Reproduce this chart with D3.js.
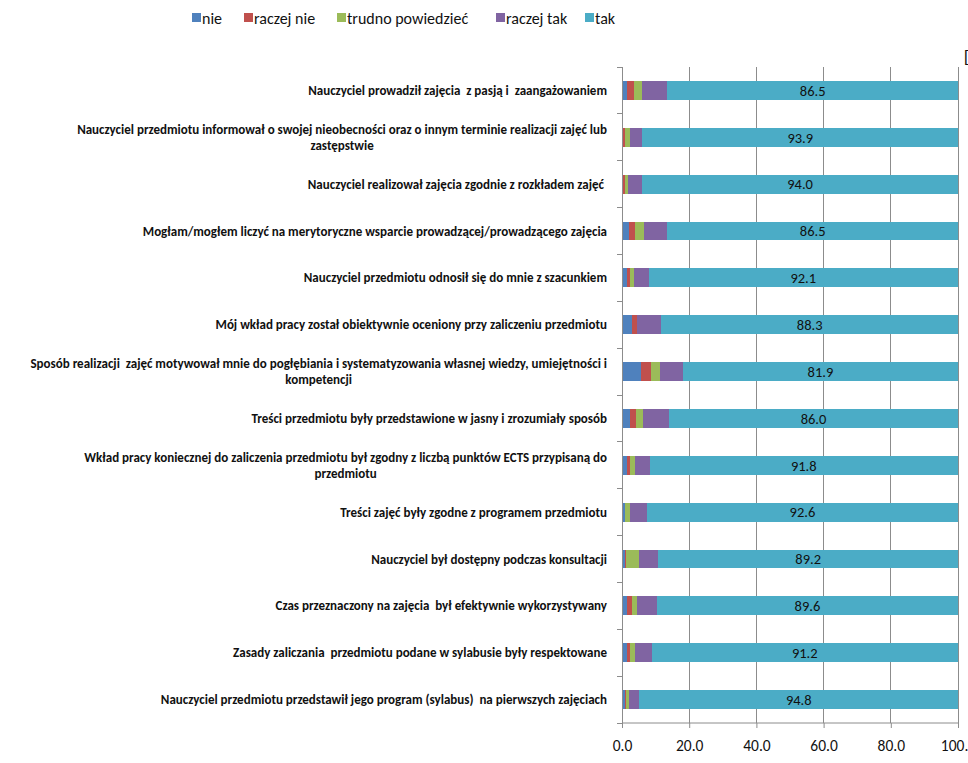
<!DOCTYPE html>
<html>
<head>
<meta charset="utf-8">
<script src="https://cdn.jsdelivr.net/npm/d3@7"></script>
<style>
html,body{margin:0;padding:0;background:#fff;}
svg{display:block;}
</style>
</head>
<body>
<svg id="chart" width="968" height="763"></svg>
<script>
const categories = [
  ["Nauczyciel prowadził zajęcia  z pasją i  zaangażowaniem"],
  ["Nauczyciel przedmiotu informował o swojej nieobecności oraz o innym terminie realizacji zajęć lub", "zastępstwie"],
  ["Nauczyciel realizował zajęcia zgodnie z rozkładem zajęć "],
  ["Mogłam/mogłem liczyć na merytoryczne wsparcie prowadzącej/prowadzącego zajęcia"],
  ["Nauczyciel przedmiotu odnosił się do mnie z szacunkiem"],
  ["Mój wkład pracy został obiektywnie oceniony przy zaliczeniu przedmiotu"],
  ["Sposób realizacji  zajęć motywował mnie do pogłębiania i systematyzowania własnej wiedzy, umiejętności i", "kompetencji"],
  ["Treści przedmiotu były przedstawione w jasny i zrozumiały sposób"],
  ["Wkład pracy koniecznej do zaliczenia przedmiotu był zgodny z liczbą punktów ECTS przypisaną do", "przedmiotu"],
  ["Treści zajęć były zgodne z programem przedmiotu"],
  ["Nauczyciel był dostępny podczas konsultacji"],
  ["Czas przeznaczony na zajęcia  był efektywnie wykorzystywany"],
  ["Zasady zaliczania  przedmiotu podane w sylabusie były respektowane"],
  ["Nauczyciel przedmiotu przedstawił jego program (sylabus)  na pierwszych zajęciach"]
];
const seriesNames = ["nie", "raczej nie", "trudno powiedzieć", "raczej tak", "tak"];
const seriesColors = ["#4F81BD", "#C0504D", "#9BBB59", "#8064A2", "#4BACC6"];
const nie       = [1.6, 0.3, 0.4, 2.0, 1.5, 2.9, 5.7, 2.3, 1.6, 0.8, 0.8, 1.5, 1.6, 1.0];
const raczejNie = [1.9, 0.6, 0.4, 1.8, 0.8, 1.5, 2.9, 1.8, 0.7, 0.0, 0.5, 1.4, 0.7, 0.2];
const trudno    = [2.4, 1.5, 1.0, 2.7, 1.2, 0.2, 2.7, 2.2, 1.5, 1.5, 3.8, 1.5, 1.5, 1.0];
const raczejTak = [7.6, 3.7, 4.2, 7.0, 4.4, 7.1, 6.8, 7.7, 4.4, 5.1, 5.7, 6.0, 5.0, 3.0];
const tak       = [86.5, 93.9, 94.0, 86.5, 92.1, 88.3, 81.9, 86.0, 91.8, 92.6, 89.2, 89.6, 91.2, 94.8];
const xTicks = [0, 20, 40, 60, 80, 100];
const xTickLabels = ["0.0", "20.0", "40.0", "60.0", "80.0", "100.0"];

const seriesValues = [nie, raczejNie, trudno, raczejTak, tak];
const rows = categories.map((c, i) => {
  const r = {idx: i};
  seriesNames.forEach((s, k) => r[s] = seriesValues[k][i]);
  return r;
});

const FONT = "Carlito, Calibri, 'Liberation Sans', Arial, sans-serif";
const svg = d3.select("#chart");
const plotTop = 67, plotBottom = 723;

const x = d3.scaleLinear().domain([0, 100]).range([622, 958]);
const y = d3.scaleBand().domain(d3.range(categories.length)).range([plotTop, plotBottom]).paddingInner(0.6).paddingOuter(0.3);
const yb = d3.scaleBand().domain(d3.range(categories.length)).range([plotTop, plotBottom]);

// gridlines
svg.append("g").selectAll("line").data(xTicks.slice(1)).join("line")
  .attr("x1", d => x(d)).attr("x2", d => x(d))
  .attr("y1", plotTop).attr("y2", plotBottom)
  .attr("stroke", "#8c8c8c").attr("stroke-width", 1).attr("shape-rendering", "crispEdges");

// stacked bars
const stack = d3.stack().keys(seriesNames)(rows);
svg.append("g").selectAll("g").data(stack).join("g")
  .attr("fill", (d, i) => seriesColors[i])
  .selectAll("rect").data(d => d).join("rect")
  .attr("x", d => x(d[0]))
  .attr("width", d => Math.max(0, x(d[1]) - x(d[0])))
  .attr("y", d => y(d.data.idx))
  .attr("height", y.bandwidth())
  .attr("shape-rendering", "crispEdges");

// value labels
svg.append("g").selectAll("text").data(rows).join("text")
  .attr("x", d => x((100 - d["tak"]) + d["tak"] / 2))
  .attr("y", d => y(d.idx) + y.bandwidth() / 2)
  .attr("dy", "0.36em")
  .attr("text-anchor", "middle")
  .attr("font-family", FONT)
  .attr("font-size", 14.5)
  .attr("fill", "#111")
  .text(d => d["tak"].toFixed(1));

// y axis
const yAxisG = svg.append("g");
yAxisG.append("line").attr("x1", x(0)).attr("x2", x(0)).attr("y1", plotTop).attr("y2", plotBottom)
  .attr("stroke", "#8c8c8c").attr("shape-rendering", "crispEdges");
yAxisG.selectAll("line.t").data(d3.range(categories.length + 1)).join("line").attr("class", "t")
  .attr("x1", x(0) - 5).attr("x2", x(0))
  .attr("y1", d => plotTop + d * yb.step()).attr("y2", d => plotTop + d * yb.step())
  .attr("stroke", "#8c8c8c").attr("shape-rendering", "crispEdges");

// x axis
const xAxis = d3.axisBottom(x).tickValues(xTicks).tickSize(5).tickFormat((d, i) => xTickLabels[i]);
const xg = svg.append("g").attr("transform", `translate(0,${plotBottom})`).call(xAxis);
xg.select(".domain").attr("stroke", "#8c8c8c").attr("d", `M${x(0)},0H${x(100)}`);
xg.selectAll(".tick line").attr("stroke", "#8c8c8c").attr("y1", 0).attr("y2", 5);
xg.selectAll(".tick text").attr("font-family", FONT)
  .attr("font-size", 15.5).attr("fill", "#111").attr("dy", "1.3em");

// category labels
const labelRight = 607;
const labG = svg.append("g");
categories.forEach((lines, i) => {
  const cy = yb(i) + yb.bandwidth() / 2;
  const g = labG.append("g");
  const lh = 16;
  const texts = lines.map((ln, j) => g.append("text")
    .attr("y", cy + (j - (lines.length - 1) / 2) * lh)
    .attr("dy", "0.35em")
    .attr("font-family", FONT)
    .attr("font-weight", "bold")
    .attr("font-size", 13)
    .attr("fill", "#111")
    .style("white-space", "pre")
    .text(ln));
  const widths = texts.map(t => t.node().getComputedTextLength());
  const maxW = d3.max(widths);
  texts.forEach(t => t.attr("x", labelRight - maxW / 2).attr("text-anchor", "middle"));
});

// legend
const legendX = [192, 244, 337, 496, 585];
const lg = svg.append("g");
seriesNames.forEach((s, i) => {
  lg.append("rect").attr("x", legendX[i]).attr("y", 13).attr("width", 9).attr("height", 9).attr("fill", seriesColors[i]);
  lg.append("text").attr("x", legendX[i] + 10).attr("y", 18).attr("dy", "0.35em")
    .attr("font-family", FONT).attr("font-size", 16).attr("fill", "#111")
    .text(s);
});

// clipped glyph at top right
svg.append("text").attr("x", 964).attr("y", 62).attr("font-family", "'Liberation Sans', Arial, sans-serif")
  .attr("font-size", 16).attr("fill", "#111").text("[");
</script>
</body>
</html>
